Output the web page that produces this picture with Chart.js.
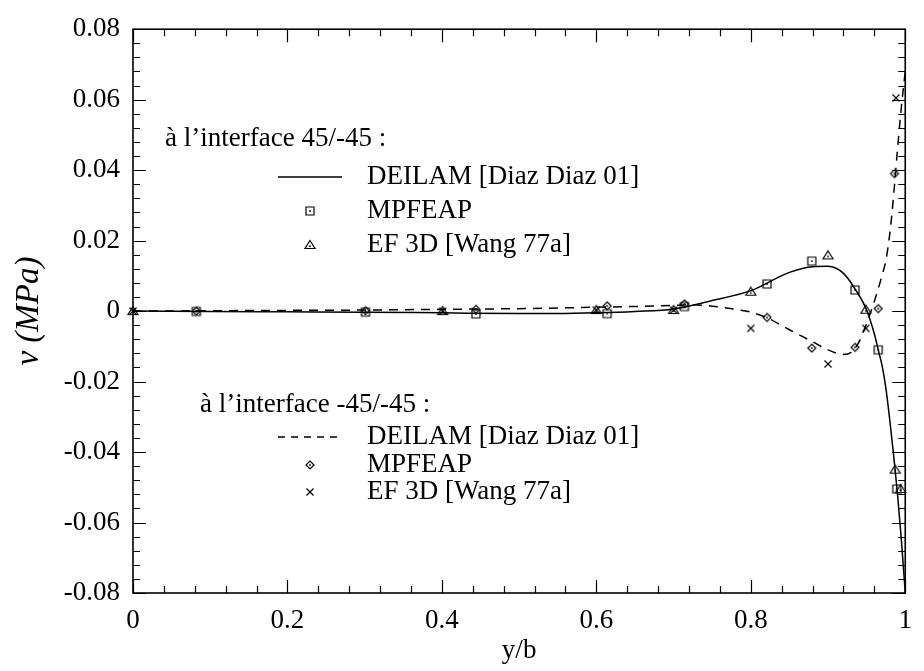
<!DOCTYPE html>
<html><head><meta charset="utf-8">
<script src="https://cdn.jsdelivr.net/npm/chart.js@4.4.0/dist/chart.umd.min.js"></script>
<style>html,body{margin:0;padding:0;background:#fff;}#wrap{width:924px;height:671px;position:relative;}</style>
</head><body><div id="wrap"><canvas id="c"></canvas></div>
<script>
// ---- data ----
const solidX = [0,0.1,0.2,0.3,0.4,0.5,0.55,0.6,0.65,0.7,0.75,0.8,0.85,0.88,0.9,0.92,0.935,0.95,0.96,0.965,0.97,0.975,0.98,0.985,0.99,0.995,1.0];
const solidV = [0,-0.0001,-0.0002,-0.0003,-0.0005,-0.0007,-0.0007,-0.0005,-0.0001,0.0006,0.003,0.0058,0.011,0.0126,0.0127,0.0107,0.0063,0.0003,-0.0065,-0.011,-0.0155,-0.022,-0.031,-0.041,-0.052,-0.065,-0.08];
const dashX = [0,0.1,0.2,0.3,0.4,0.5,0.6,0.7,0.72,0.75,0.78,0.8,0.82,0.85,0.88,0.9,0.92,0.93,0.94,0.95,0.955,0.96,0.965,0.97,0.975,0.98,0.985,0.99,0.995,1.0];
const dashV = [0,0.0001,0.0002,0.0003,0.0005,0.0007,0.0011,0.0016,0.0018,0.0014,0.0005,-0.0003,-0.0018,-0.0053,-0.0087,-0.011,-0.0123,-0.0117,-0.0088,-0.0035,-0.0005,0.0028,0.0063,0.0102,0.0145,0.022,0.033,0.046,0.058,0.068];
const sqX = [0.082,0.301,0.444,0.614,0.714,0.821,0.879,0.935,0.965,0.989];
const sqV = [-0.0001,-0.0003,-0.0008,-0.0007,0.0013,0.0077,0.0142,0.006,-0.011,-0.0505];
const triX = [0,0.401,0.6,0.7,0.8,0.9,0.949,0.987,0.994];
const triV = [0,0,0.0003,0.0003,0.0055,0.0158,0.0004,-0.045,-0.0505];
const diX = [0.082,0.301,0.444,0.614,0.714,0.821,0.879,0.935,0.965,0.986];
const diV = [0,0.0001,0.0005,0.0015,0.002,-0.0018,-0.0105,-0.0103,0.0007,0.039];
const crX = [0,0.401,0.6,0.7,0.8,0.9,0.949,0.988];
const crV = [0,0,0.0003,0.0003,-0.0049,-0.015,-0.0049,0.0605];

const xTickValues = [0,0.2,0.4,0.6,0.8,1];
const yTickValues = [-0.08,-0.06,-0.04,-0.02,0,0.02,0.04,0.06,0.08];
const xTitle = 'y/b';
const yTitle = 'ν (MPa)';
const group1Header = 'à l’interface 45/-45 :';
const group2Header = 'à l’interface -45/-45 :';
const seriesNames = ['DEILAM [Diaz Diaz 01]','MPFEAP','EF 3D [Wang 77a]'];

const zip = (xs, vs) => xs.map((x,i)=>({x, y: vs[i]}));

// ---- marker images ----
function mk(type){
  const s = 16, c = document.createElement('canvas'); c.width = s; c.height = s;
  const g = c.getContext('2d'); g.strokeStyle = '#000'; g.fillStyle = '#000'; g.lineWidth = 1.2;
  const m = s/2;
  g.beginPath();
  if (type === 'square'){ g.rect(m-4, m-4, 8, 8); g.stroke(); g.fillRect(m-0.8, m-0.8, 1.6, 1.6); }
  else if (type === 'tri'){ g.moveTo(m, m-4.5); g.lineTo(m+5, m+3.5); g.lineTo(m-5, m+3.5); g.closePath(); g.stroke(); g.fillRect(m-0.8, m+0.3, 1.6, 1.6); }
  else if (type === 'dia'){ g.moveTo(m, m-4); g.lineTo(m+4, m); g.lineTo(m, m+4); g.lineTo(m-4, m); g.closePath(); g.stroke(); g.fillRect(m-0.8, m-0.8, 1.6, 1.6); }
  else { g.moveTo(m-3.5, m-3.5); g.lineTo(m+3.5, m+3.5); g.moveTo(m+3.5, m-3.5); g.lineTo(m-3.5, m+3.5); g.stroke(); }
  return c;
}
const mSq = mk('square'), mTri = mk('tri'), mDi = mk('dia'), mCr = mk('cross');

const SERIF = '"Liberation Serif", "Times New Roman", serif';

const decor = {
  id: 'decor',
  afterDraw(chart){
    const {ctx, chartArea: a, scales: {x, y}} = chart;
    ctx.save();
    ctx.strokeStyle = '#000';
    ctx.lineWidth = 1.2;
    ctx.beginPath();
    for (let k = -20; k <= 20; k++){
      const py = Math.round(y.getPixelForValue(k*0.004)) + 0.5;
      const len = (k % 5 === 0) ? 13 : 7;
      ctx.moveTo(a.left, py); ctx.lineTo(a.left + len, py);
      ctx.moveTo(a.right, py); ctx.lineTo(a.right - len, py);
    }
    for (let k = 0; k <= 25; k++){
      const px = Math.round(x.getPixelForValue(k*0.04)) + 0.5;
      const len = (k % 5 === 0) ? 13 : 7;
      ctx.moveTo(px, a.bottom); ctx.lineTo(px, a.bottom - len);
      ctx.moveTo(px, a.top); ctx.lineTo(px, a.top + len);
    }
    ctx.stroke();
    ctx.lineWidth = 1.6;
    ctx.strokeRect(a.left, a.top, a.right - a.left, a.bottom - a.top);

    // legend
    ctx.fillStyle = '#000';
    ctx.font = '27px ' + SERIF;
    ctx.textBaseline = 'middle';
    ctx.textAlign = 'left';
    const tx = 367, lx0 = 278, lx1 = 342, mx = 310;
    const g1 = [139, 177, 211, 245];
    const g2 = [405, 437, 465, 492];
    ctx.fillText(group1Header, 165, g1[0]);
    ctx.fillText(group2Header, 200, g2[0]);
    for (let i = 0; i < 3; i++){
      ctx.fillText(seriesNames[i], tx, g1[i+1]);
      ctx.fillText(seriesNames[i], tx, g2[i+1]);
    }
    ctx.lineWidth = 1.4;
    ctx.beginPath(); ctx.moveTo(lx0, g1[1]); ctx.lineTo(lx1, g1[1]); ctx.stroke();
    ctx.setLineDash([7,6]);
    ctx.beginPath(); ctx.moveTo(lx0, g2[1]); ctx.lineTo(lx1, g2[1]); ctx.stroke();
    ctx.setLineDash([]);
    ctx.drawImage(mSq, mx-8, g1[2]-8);
    ctx.drawImage(mTri, mx-8, g1[3]-8);
    ctx.drawImage(mDi, mx-8, g2[2]-8);
    ctx.drawImage(mCr, mx-8, g2[3]-8);
    ctx.restore();
  }
};

const lineDs = (data, dash) => ({
  type: 'line', data, borderColor: '#000', borderWidth: 1.5, borderDash: dash,
  pointRadius: 0, cubicInterpolationMode: 'monotone', fill: false, order: 2
});
const ptDs = (data, img) => ({
  type: 'scatter', data, pointStyle: img, pointRadius: 5, borderColor: '#000',
  backgroundColor: 'rgba(0,0,0,0)', showLine: false, clip: false, order: 1
});

new Chart(document.getElementById('c'), {
  data: {
    datasets: [
      lineDs(zip(solidX, solidV), []),
      lineDs(zip(dashX, dashV), [9,7]),
      ptDs(zip(sqX, sqV), mSq),
      ptDs(zip(triX, triV), mTri),
      ptDs(zip(diX, diV), mDi),
      ptDs(zip(crX, crV), mCr)
    ]
  },
  options: {
    responsive: true, maintainAspectRatio: false, animation: false,
    layout: { padding: { top: 22, right: 7, left: 0, bottom: 0 } },
    plugins: { legend: { display: false }, tooltip: { enabled: false } },
    scales: {
      x: {
        type: 'linear', min: 0, max: 1,
        afterFit(s){ s.height = 78; },
        afterBuildTicks(s){ s.ticks = xTickValues.map(v => ({value: v})); },
        grid: { display: false, drawTicks: false, tickLength: 0 },
        border: { display: false },
        ticks: { color: '#000', padding: 12, font: { family: SERIF, size: 27 }, maxRotation: 0, autoSkip: false,
          callback: v => (v === 0 ? '0' : (v === 1 ? '1' : v.toFixed(1))) },
        title: { display: true, text: xTitle, color: '#000', font: { family: SERIF, size: 27 }, padding: { top: 0, bottom: 4 } }
      },
      y: {
        type: 'linear', min: -0.08, max: 0.08,
        afterFit(s){ s.width = 133; },
        afterBuildTicks(s){ s.ticks = yTickValues.map(v => ({value: v})); },
        grid: { display: false, drawTicks: false, tickLength: 0 },
        border: { display: false },
        ticks: { color: '#000', padding: 13, font: { family: SERIF, size: 27 }, autoSkip: false,
          callback: v => (Math.abs(v) < 1e-9 ? '0' : v.toFixed(2)) },
        title: { display: true, text: yTitle, color: '#000', font: { family: SERIF, size: 33, style: 'italic' }, padding: { top: 10, bottom: 0 } }
      }
    }
  },
  plugins: [decor]
});
</script></body></html>
